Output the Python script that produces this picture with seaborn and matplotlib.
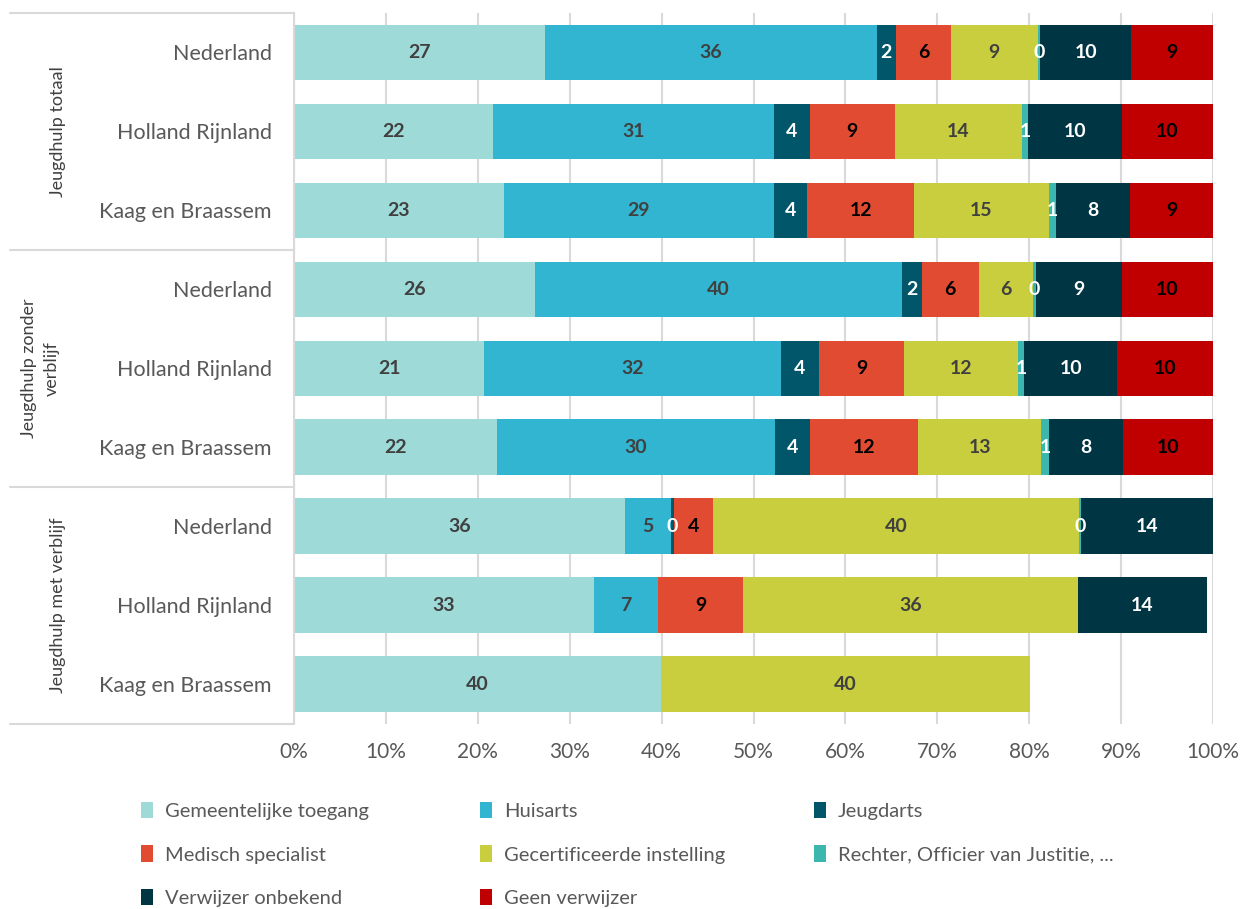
import pandas as pd
import matplotlib.pyplot as plt
import matplotlib.transforms as mtransforms
import seaborn as sns
from matplotlib.patches import Patch

# Categories
groups = ['Jeugdhulp totaal', 'Jeugdhulp zonder\nverblijf', 'Jeugdhulp met verblijf']
regions = ['Nederland', 'Holland Rijnland', 'Kaag en Braassem']

series = ['Gemeentelijke toegang', 'Huisarts', 'Jeugdarts', 'Medisch specialist',
          'Gecertificeerde instelling', 'Rechter, Officier van Justitie, ...',
          'Verwijzer onbekend', 'Geen verwijzer']
colors = ['#9DDAD8', '#31B5D0', '#02566A', '#E04B32', '#C9CE3F', '#3BB7AF', '#003543', '#C00000']
label_colors = ['#404040', '#404040', 'white', 'black', '#404040', 'white', 'white', 'black']

# Values (%), rows: totaal NL/HR/KB, zonder NL/HR/KB, met NL/HR/KB
gemeentelijke = [27.3, 21.6, 22.8, 26.2, 20.7, 22.1, 36.0, 32.6, 39.9]
huisarts = [36.1, 30.6, 29.4, 40.0, 32.3, 30.2, 5.0, 7.0, 0]
jeugdarts = [2.1, 3.9, 3.6, 2.1, 4.1, 3.8, 0.3, 0, 0]
medisch = [6.0, 9.3, 11.7, 6.2, 9.3, 11.8, 4.3, 9.3, 0]
gecertificeerd = [9.4, 13.8, 14.6, 5.9, 12.4, 13.4, 39.8, 36.4, 40.2]
rechter = [0.3, 0.7, 0.8, 0.3, 0.6, 0.9, 0.2, 0, 0]
onbekend = [9.9, 10.2, 8.1, 9.4, 10.2, 8.0, 14.4, 14.0, 0]
geen = [8.9, 9.9, 9.0, 9.9, 10.4, 9.8, 0, 0, 0]

values = [gemeentelijke, huisarts, jeugdarts, medisch, gecertificeerd, rechter, onbekend, geen]

rows = [f'{g}|{r}' for g in groups for r in regions]
df = pd.DataFrame({s: v for s, v in zip(series, values)})
df['row'] = rows
cum = df[series].cumsum(axis=1)
cum['row'] = rows

sns.set_theme(style='white')
plt.rcParams['font.family'] = ['Lato', 'DejaVu Sans']

fig, ax = plt.subplots(figsize=(12.42, 9.09), dpi=100)
fig.subplots_adjust(left=0.2367, right=0.9767, top=0.986, bottom=0.204)

# stacked bars: draw cumulative totals from last to first
for k in range(len(series) - 1, -1, -1):
    sns.barplot(data=cum, x=series[k], y='row', order=rows, color=colors[k],
                orient='h', width=0.7, linewidth=0, saturation=1, ax=ax)

# value labels
for i in range(len(rows)):
    for k, s in enumerate(series):
        v = df.loc[i, s]
        if v > 0:
            ax.text(cum.loc[i, s] - v / 2, i, f'{v:.0f}', ha='center', va='center',
                    fontsize=14, fontweight='bold', color=label_colors[k])

ax.set_xlim(0, 100)
ax.set_ylim(len(rows) - 0.5, -0.5)
ax.set_xticks(range(0, 101, 10))
ax.set_xticklabels([f'{t}%' for t in range(0, 101, 10)])
ax.set_yticks(range(len(rows)))
ax.set_yticklabels(regions * 3)
ax.set_xlabel('')
ax.set_ylabel('')
ax.tick_params(axis='x', length=0, pad=13, labelsize=15, labelcolor='#595959')
ax.tick_params(axis='y', length=0, pad=16, labelsize=15.5, labelcolor='#595959')
ax.xaxis.grid(True, color='#D9D9D9', lw=1.5)
ax.set_axisbelow(True)
for side in ['top', 'right', 'bottom']:
    ax.spines[side].set_visible(False)
ax.spines['left'].set_color('#D9D9D9')
ax.spines['left'].set_linewidth(1.5)

# group separators and labels
trans = mtransforms.blended_transform_factory(ax.transAxes, ax.transData)
for y in [-0.5, 2.5, 5.5, 8.5]:
    ax.plot([-0.309, 0], [y, y], color='#D9D9D9', lw=1.5, transform=trans, clip_on=False)
for j, g in enumerate(groups):
    xpos = -0.276 if '\n' in g else -0.257
    ax.text(xpos, 3 * j + 1, g, rotation=90, ha='center', va='center', multialignment='center',
            fontsize=13, color='#404040', linespacing=1.5, transform=trans)

# legend, filled row by row in three columns
handles = [Patch(facecolor=c, edgecolor='none') for c in colors]
cols_x = [141 / 1242, 480 / 1242, 814 / 1242]
for c in range(3):
    idx = list(range(c, len(series), 3))
    fig.legend([handles[i] for i in idx], [series[i] for i in idx],
               loc='upper left', bbox_to_anchor=(cols_x[c], 0.118), frameon=False,
               borderpad=0, borderaxespad=0, handlelength=0.6, handleheight=0.9,
               handletextpad=0.6, labelspacing=1.25, fontsize=14.5, labelcolor='#595959')

fig.savefig('out.png', dpi=100)
